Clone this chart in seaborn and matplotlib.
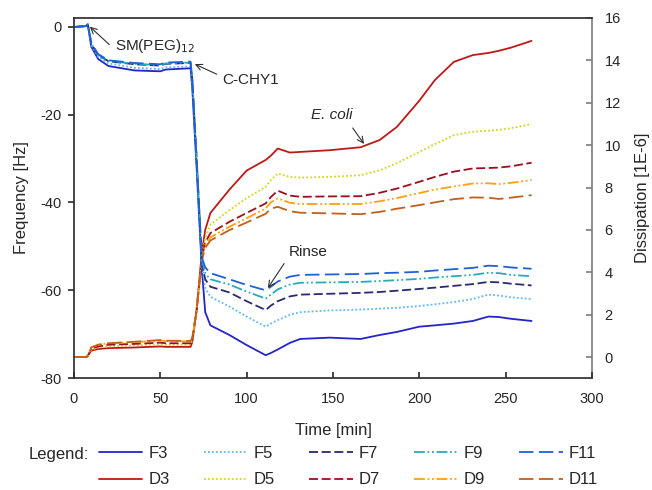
import matplotlib
matplotlib.use("Agg")
import matplotlib.pyplot as plt
import seaborn as sns

sns.set_theme(style="ticks")
plt.rcParams['font.family'] = ['Liberation Sans', 'DejaVu Sans']
plt.rcParams['axes.unicode_minus'] = False

# time grid [min]
time = [0, 7, 8, 10, 14, 20, 35, 50, 53, 67.5, 68.5, 71, 74, 76, 79, 90, 100, 111, 114, 118,
        125, 131, 148, 166, 177, 187, 200, 209, 220, 231, 240, 246, 253, 265]

# frequency [Hz]
F3 = [0, 0.2, 0.6, -4.5, -7.3, -8.9, -9.9, -10.1, -9.7, -9.4, -14, -32, -55, -65, -68, -70.2, -72.5, -74.8,
      -74.3, -73.5, -72, -71.1, -70.8, -71.1, -70.2, -69.5, -68.3, -68.0, -67.6, -67.0, -66.0, -66.1, -66.5, -67.0]
F5 = [0, 0.2, 0.6, -4.2, -6.8, -8.3, -9.3, -9.6, -9.2, -9.0, -13, -31, -54, -59.5, -61.5, -63.7, -66.0, -68.3,
      -67.6, -66.8, -65.6, -65.0, -64.6, -64.4, -64.2, -64.0, -63.6, -63.2, -62.7, -62.0, -61.0, -61.2, -61.6, -62.0]
F7 = [0, 0.2, 0.6, -3.8, -6.4, -7.8, -8.5, -8.8, -8.4, -8.2, -12, -30, -53.5, -57.5, -59.2, -60.5, -62.5, -64.5,
      -63.5, -62.5, -61.4, -61.0, -60.8, -60.6, -60.4, -60.1, -59.7, -59.4, -59.0, -58.6, -58.1, -58.2, -58.5, -58.9]
F9 = [0, 0.2, 0.6, -3.8, -6.3, -7.7, -8.4, -8.7, -8.3, -8.1, -12, -30, -53, -56.2, -57.5, -58.7, -60.3, -61.9,
      -61.0, -59.8, -58.7, -58.3, -58.2, -58.1, -57.9, -57.7, -57.4, -57.1, -56.8, -56.5, -56.0, -56.1, -56.5, -56.8]
F11 = [0, 0.2, 0.6, -3.7, -6.2, -7.6, -8.2, -8.5, -8.1, -7.9, -12, -30, -52.5, -54.8, -56.1, -57.5, -58.8, -60.0,
       -59.2, -58.0, -56.9, -56.5, -56.4, -56.3, -56.1, -56.0, -55.8, -55.5, -55.2, -54.9, -54.4, -54.5, -54.8, -55.1]

# dissipation [1E-6]
D3 = [0, 0, 0.05, 0.3, 0.38, 0.42, 0.45, 0.5, 0.48, 0.48, 0.7, 2.2, 4.9, 6.0, 6.8, 7.9, 8.8, 9.3, 9.5, 9.84,
      9.65, 9.68, 9.76, 9.9, 10.24, 10.86, 12.1, 13.07, 13.93, 14.25, 14.35, 14.45, 14.6, 14.92]
D5 = [0, 0, 0.05, 0.35, 0.45, 0.5, 0.55, 0.6, 0.58, 0.58, 0.8, 2.2, 4.75, 5.6, 6.25, 6.93, 7.5, 8.03, 8.35, 8.66,
      8.5, 8.47, 8.5, 8.58, 8.81, 9.15, 9.68, 10.05, 10.47, 10.63, 10.68, 10.72, 10.8, 10.99]
D7 = [0, 0, 0.05, 0.4, 0.5, 0.58, 0.62, 0.68, 0.65, 0.65, 0.85, 2.2, 4.65, 5.4, 5.85, 6.38, 6.8, 7.25, 7.55, 7.85,
      7.62, 7.56, 7.58, 7.59, 7.75, 7.95, 8.27, 8.5, 8.75, 8.9, 8.92, 8.94, 9.0, 9.17]
D9 = [0, 0, 0.05, 0.45, 0.58, 0.65, 0.7, 0.78, 0.75, 0.74, 0.9, 2.2, 4.6, 5.3, 5.65, 6.15, 6.55, 7.01, 7.3, 7.49,
      7.28, 7.22, 7.22, 7.22, 7.35, 7.5, 7.74, 7.9, 8.05, 8.19, 8.2, 8.16, 8.22, 8.35]
D11 = [0, 0, 0.05, 0.45, 0.58, 0.65, 0.72, 0.8, 0.77, 0.76, 0.9, 2.2, 4.55, 5.15, 5.5, 5.99, 6.35, 6.76, 7.0, 7.09,
       6.88, 6.81, 6.78, 6.74, 6.85, 7.0, 7.17, 7.3, 7.45, 7.53, 7.52, 7.46, 7.52, 7.64]

freq_series = {"F3": F3, "F5": F5, "F7": F7, "F9": F9, "F11": F11}
diss_series = {"D3": D3, "D5": D5, "D7": D7, "D9": D9, "D11": D11}

styles = {
    "F3": ("#2424c8", "-"), "F5": ("#5cb8f4", (0, (1, 1.2))), "F7": ("#2a2a70", (0, (5, 2))),
    "F9": ("#28aabe", (0, (6, 1.5, 1, 1.5, 1, 1.5))), "F11": ("#2060d4", (0, (8, 3))),
    "D3": ("#c01818", "-"), "D5": ("#d4d420", (0, (1, 1.2))), "D7": ("#9a1020", (0, (5, 2))),
    "D9": ("#ffa010", (0, (6, 1.5, 1, 1.5, 1, 1.5))), "D11": ("#c0601a", (0, (8, 3))),
}

fig = plt.figure(figsize=(6.52, 4.90), dpi=100)
ax = fig.add_axes([74 / 652, 1 - 378 / 490, 518 / 652, 360 / 490])
ax2 = ax.twinx()

handles = {}
for name, vals in diss_series.items():
    color, ls = styles[name]
    sns.lineplot(x=time, y=vals, ax=ax2, color=color, linestyle=ls, linewidth=1.3, legend=False)
    handles[name] = ax2.get_lines()[-1]
for name, vals in freq_series.items():
    color, ls = styles[name]
    sns.lineplot(x=time, y=vals, ax=ax, color=color, linestyle=ls, linewidth=1.3, legend=False)
    handles[name] = ax.get_lines()[-1]

ax.set_zorder(ax2.get_zorder() + 1)
ax.patch.set_visible(False)

ax.set_xlim(0, 300)
ax.set_ylim(-80, 2.05)
ax2.set_ylim(-0.99, 16)
ax.set_xticks(range(0, 301, 50))
ax.set_yticks(range(-80, 1, 20))
ax2.set_yticks(range(0, 17, 2))

ax.set_xlabel("Time [min]", fontsize=12, labelpad=12)
ax.set_ylabel("Frequency [Hz]", fontsize=12, labelpad=8)
ax2.set_ylabel("Dissipation [1E-6]", fontsize=12, labelpad=10)
ax.tick_params(axis="x", direction="in", labelsize=10.5, length=4, pad=10, color="#303030")
ax.tick_params(axis="y", direction="out", labelsize=10.5, length=4, pad=5, color="#303030")
ax2.tick_params(axis="y", direction="in", labelsize=10.5, length=4, pad=9, color="#808080")
for s in ["left", "top", "bottom"]:
    ax.spines[s].set_color("#303030")
    ax2.spines[s].set_visible(False)
ax.spines["right"].set_visible(False)
ax2.spines["right"].set_color("#808080")

arrow = dict(arrowstyle="->", color="#303030", lw=0.8)
ax.annotate("SM(PEG)$_{12}$", xy=(8, 0.5), xytext=(23.5, -4.3), fontsize=11, ha="left", va="center",
            arrowprops=dict(relpos=(0, 0.3), **arrow))
ax.annotate("C-CHY1", xy=(68.5, -8.2), xytext=(86, -12), fontsize=11, ha="left", va="center",
            arrowprops=dict(relpos=(0, 0.7), **arrow))
ax2.annotate("E. coli", xy=(168.9, 9.95), xytext=(149.5, 11.4), fontsize=11, ha="center", va="center",
             style="italic", arrowprops=dict(relpos=(0.9, 0), **arrow))
ax.annotate("Rinse", xy=(111.4, -60), xytext=(124.5, -51.3), fontsize=11, ha="left", va="center",
            arrowprops=dict(relpos=(0, 0.2), **arrow))

order = ["F3", "D3", "F5", "D5", "F7", "D7", "F9", "D9", "F11", "D11"]
fig.legend([handles[n] for n in order], order, ncol=5, frameon=False, fontsize=12,
           loc="upper left", bbox_to_anchor=(99 / 652, 1 - 446 / 490), borderpad=0, borderaxespad=0,
           handlelength=2.6, handletextpad=0.36, columnspacing=2.07, labelspacing=0.68)
fig.text(29 / 652, 1 - 454 / 490, "Legend:", fontsize=12, va="center", ha="left")

fig.savefig("out.png", dpi=100)
